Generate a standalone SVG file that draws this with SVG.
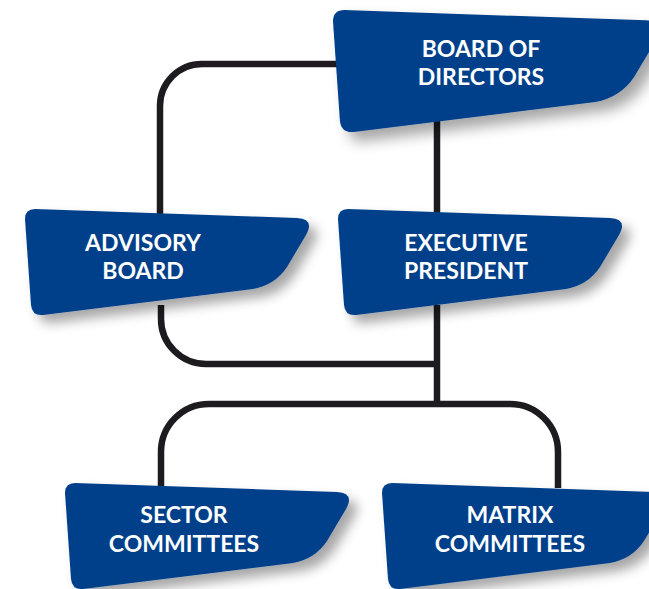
<svg xmlns="http://www.w3.org/2000/svg" xmlns:xlink="http://www.w3.org/1999/xlink" width="649" height="589" viewBox="0 0 649 589">
<style>
.conn{fill:none;stroke:#1d1b20;stroke-width:6.5;stroke-linecap:butt}
.shape{fill:#00408a;filter:url(#sh)}
.lbl{font-family:Lato,"Open Sans","Liberation Sans",sans-serif;font-weight:700;font-size:23px;fill:#ffffff;text-anchor:middle}
</style>
<defs>
<filter id="sh" x="-20%" y="-20%" width="150%" height="160%">
<feDropShadow dx="8" dy="8" stdDeviation="6" flood-color="#000" flood-opacity="0.35"/>
</filter>
<path id="nodeShape" d="M0,10 Q0,0 10,0 L272,9 Q290,10 281,26 L262,58 Q250,76 228,80 L18,106 Q7,107 6,96 Z"/>
</defs>
<rect width="649" height="589" fill="#ffffff"/>
<g id="connectors">
<path class="conn" d="M338,64 H202 A42,42 0 0 0 160,106 V214"/>
<path class="conn" d="M437,120 V214"/>
<path class="conn" d="M161,305 V319 A45,45 0 0 0 206,364 H437"/>
<path class="conn" d="M437,305 V404"/>
<path class="conn" d="M161,488 V452 A48,48 0 0 1 209,404 H510 A48,48 0 0 1 558,452 V488"/>
</g>
<g id="board">
<use xlink:href="#nodeShape" class="shape" transform="translate(333,10) scale(1.15)"/>
<text class="lbl" x="481" y="57">BOARD OF</text>
<text class="lbl" x="481" y="85">DIRECTORS</text>
</g>
<g id="advisory">
<use xlink:href="#nodeShape" class="shape" transform="translate(25,209)"/>
<text class="lbl" x="143" y="251">ADVISORY</text>
<text class="lbl" x="143" y="279">BOARD</text>
</g>
<g id="executive">
<use xlink:href="#nodeShape" class="shape" transform="translate(338,209)"/>
<text class="lbl" x="466" y="251">EXECUTIVE</text>
<text class="lbl" x="466" y="279">PRESIDENT</text>
</g>
<g id="sector">
<use xlink:href="#nodeShape" class="shape" transform="translate(65,483)"/>
<text class="lbl" x="184" y="523">SECTOR</text>
<text class="lbl" x="184" y="552">COMMITTEES</text>
</g>
<g id="matrix">
<use xlink:href="#nodeShape" class="shape" transform="translate(382,483)"/>
<text class="lbl" x="510" y="523">MATRIX</text>
<text class="lbl" x="510" y="552">COMMITTEES</text>
</g>
</svg>
